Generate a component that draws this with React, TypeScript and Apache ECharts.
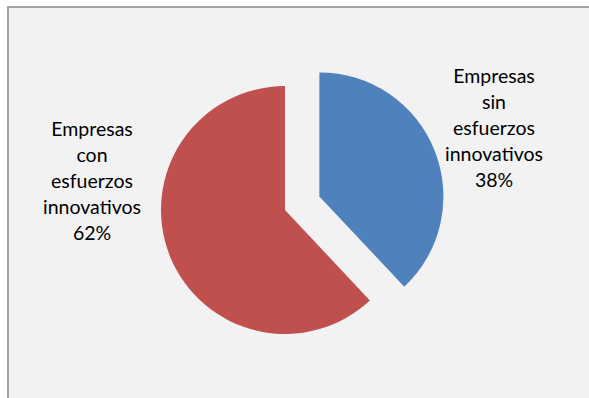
import React, { useEffect, useRef } from "react";
import * as echarts from "echarts";

const categories = [
  "Empresas sin esfuerzos innovativos",
  "Empresas con esfuerzos innovativos",
];
const values = [38, 62];
const colors = ["#4f81bd", "#c0504d"];
const exploded = [true, false];
// label anchor positions (layout, px)
const labelPos = [
  [494, 127],
  [92, 180],
];

export default function App() {
  const ref = useRef<HTMLDivElement>(null);
  useEffect(() => {
    if (!ref.current) return;
    const chart = echarts.init(ref.current, undefined, { renderer: "svg" });
    const common = {
      type: "pie",
      center: [285, 210],
      radius: 124,
      startAngle: 90,
      clockwise: true,
      emphasis: { disabled: true },
      avoidLabelOverlap: false,
      labelLine: { show: false },
    };
    chart.setOption({
      animation: false,
      backgroundColor: "#ffffff",
      graphic: [
        {
          type: "rect",
          z: -10,
          silent: true,
          shape: { x: 8, y: 7, width: 620, height: 420 },
          style: { fill: "#f2f2f2", stroke: "#a3a3a3", lineWidth: 2 },
        },
      ],
      series: [
        {
          ...common,
          selectedMode: "single",
          selectedOffset: 37,
          label: { show: false },
          data: categories.map((name, i) => ({
            name,
            value: values[i],
            selected: exploded[i],
            itemStyle: { color: colors[i], borderWidth: 0 },
            select: { itemStyle: { color: colors[i], borderWidth: 0 } },
          })),
        },
        {
          ...common,
          silent: true,
          selectedMode: false,
          z: 3,
          itemStyle: { color: "rgba(0,0,0,0)", borderWidth: 0 },
          label: {
            show: true,
            position: "outside",
            formatter: (p: any) =>
              String(p.name).split(" ").join("\n") + "\n" + Math.round(p.percent) + "%",
            fontFamily: "Lato, 'Open Sans', sans-serif",
            fontSize: 19.5,
            lineHeight: 26,
            color: "#000000",
            align: "center",
          },
          labelLayout: (params: any) => ({
            x: labelPos[params.dataIndex][0],
            y: labelPos[params.dataIndex][1],
            align: "center",
            verticalAlign: "middle",
          }),
          data: categories.map((name, i) => ({ name, value: values[i] })),
        },
      ],
    });
    return () => chart.dispose();
  }, []);
  return (
    <div
      ref={ref}
      style={{ position: "absolute", left: 0, top: 0, width: 589, height: 398 }}
    />
  );
}
